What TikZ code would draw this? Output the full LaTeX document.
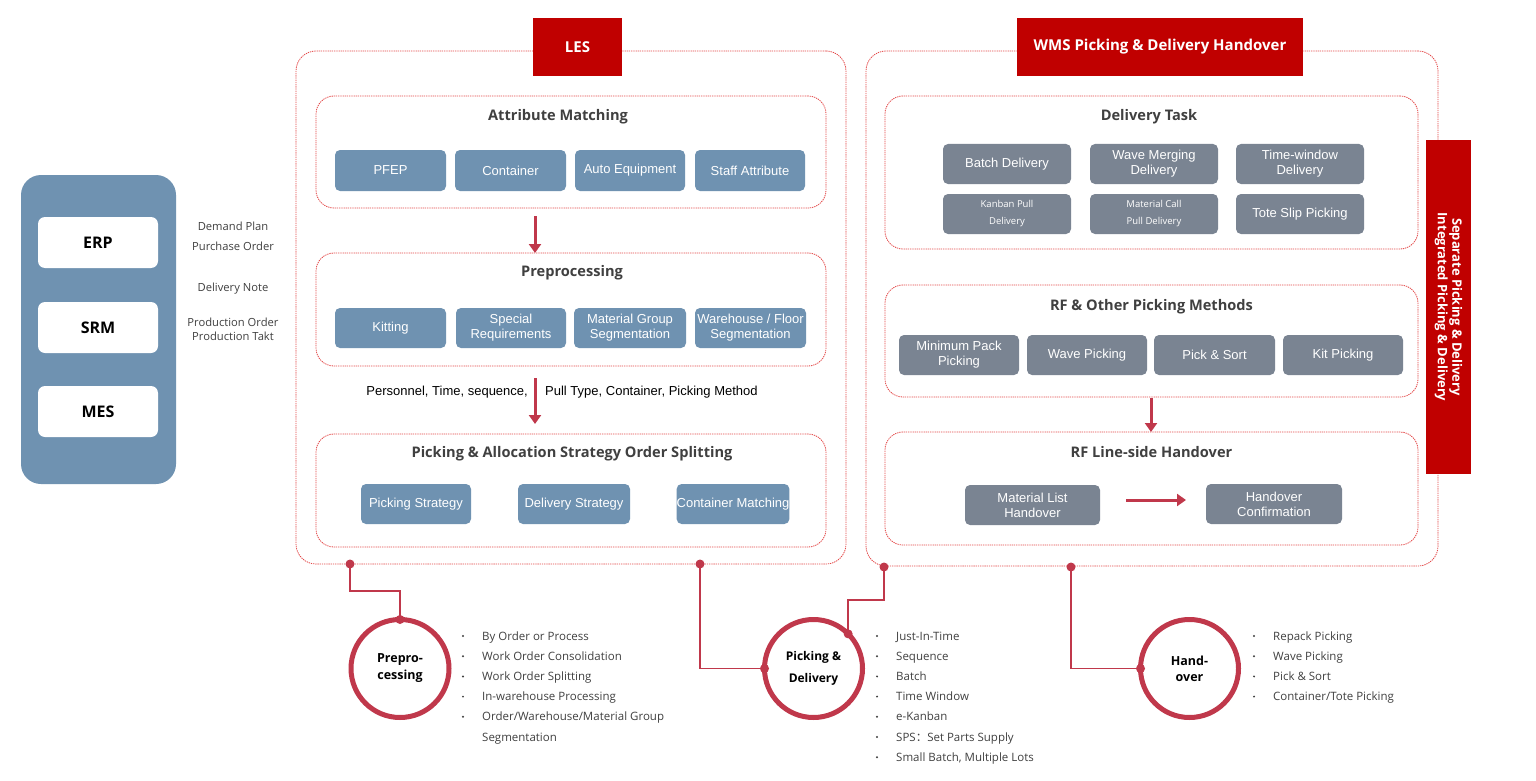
\documentclass[tikz,border=0pt]{standalone}
\usepackage{fontspec}
\setmainfont{Liberation Sans}
\newfontfamily\tfont{Open Sans}
\newfontfamily\cjk{Noto Sans CJK SC}
\usetikzlibrary{arrows.meta}
\definecolor{steel}{RGB}{111,146,177}
\definecolor{slate}{RGB}{122,132,146}
\definecolor{crim}{RGB}{192,56,75}
\definecolor{tred}{RGB}{192,0,0}
\definecolor{dred}{RGB}{228,72,72}
\definecolor{tgray}{RGB}{64,64,64}
\tikzset{
  outerbox/.style={draw=dred, dash pattern=on 1.3pt off 0.9pt, line width=0.8pt, rounded corners=20pt, inner sep=0pt, outer sep=0pt},
  innerbox/.style={draw=dred, dash pattern=on 1.3pt off 0.9pt, line width=0.8pt, rounded corners=18pt, inner sep=0pt, outer sep=0pt},
  lbox/.style={fill=steel, rounded corners=5pt, text=white, align=center, inner sep=0pt, minimum height=40pt, font=\fontsize{13}{15}\selectfont},
  wbox/.style={fill=slate, rounded corners=5pt, text=white, align=center, inner sep=0pt, minimum height=40pt, font=\fontsize{13}{15}\selectfont},
  sysbox/.style={fill=white, rounded corners=7pt, minimum width=120pt, minimum height=51pt, inner sep=0pt, font=\tfont\bfseries\fontsize{16}{18}\selectfont},
  secttl/.style={anchor=base, text=tgray, font=\tfont\bfseries\fontsize{14.6}{16}\selectfont, inner sep=0pt},
  redttl/.style={fill=tred, text=white, inner sep=0pt, minimum height=58pt, font=\tfont\bfseries\fontsize{15}{16}\selectfont},
  arr/.style={draw=crim, line width=3pt, -{Triangle[length=9pt,width=12pt]}},
  conn/.style={draw=crim, line width=1.6pt},
  dot/.style={circle, fill=crim, minimum size=9pt, inner sep=0pt},
  ring/.style={circle, draw=crim, line width=5pt, minimum size=98pt, inner sep=0pt, outer sep=0pt, align=center, text=black},
  blt/.style={anchor=base west, inner sep=0pt, text=tgray, font=\tfont\fontsize{11.5}{12}\selectfont},
  bdot/.style={circle, fill=tgray, minimum size=2.2pt, inner sep=0pt},
  sidelbl/.style={anchor=base, inner sep=0pt, text=tgray, font=\tfont\fontsize{11.2}{12}\selectfont},
  flowlbl/.style={inner sep=0pt, text=black, font=\fontsize{13}{14}\selectfont}
}
\begin{document}
\begin{tikzpicture}[x=1pt,y=-1pt]
\useasboundingbox (0,0) rectangle (1536,781);
\fill[white] (0,0) rectangle (1536,781);

% left systems panel
\node[fill=steel, rounded corners=20pt, minimum width=155pt, minimum height=309pt, inner sep=0pt] (sys) at (98.5,329.5) {};
\node[sysbox] (erp) at (98,242.5) {ERP};
\node[sysbox] (srm) at (98,327.5) {SRM};
\node[sysbox] (mes) at (98,411.5) {MES};
\node[sidelbl] (l1) at (233,230) {Demand Plan};
\node[sidelbl] (l2) at (233,250) {Purchase Order};
\node[sidelbl] (l3) at (233,291) {Delivery Note};
\node[sidelbl] (l4) at (233,326) {Production Order};
\node[sidelbl] (l5) at (233,340) {Production Takt};

% LES
\node[outerbox, minimum width=550pt, minimum height=513pt] (les) at (571,307.5) {};
\node[redttl, minimum width=89pt] (lesttl) at (577.5,47) {LES};

\node[innerbox, minimum width=510pt, minimum height=112pt] (attr) at (571,152) {};
\node[secttl] (attrttl) at (558,121) {Attribute Matching};
\node[lbox, minimum width=111pt, minimum height=41pt] (pfep) at (390.5,170.5) {PFEP};
\node[lbox, minimum width=111pt, minimum height=41pt] (cont) at (510.5,170.5) {Container};
\node[lbox, minimum width=110pt, minimum height=41pt] (auto) at (630,170.5) {Auto Equipment};
\node[lbox, minimum width=110pt, minimum height=41pt] (staff) at (750,170.5) {Staff Attribute};

\node[innerbox, minimum width=510pt, minimum height=113pt] (pre) at (571,309.5) {};
\node[secttl] (prettl) at (572,276) {Preprocessing};
\node[lbox, minimum width=111pt] (kit) at (390.5,328) {Kitting};
\node[lbox, minimum width=110pt] (spec) at (511,328) {Special\\Requirements};
\node[lbox, minimum width=112pt] (mgs) at (630,328) {Material Group\\Segmentation};
\node[lbox, minimum width=111pt] (whs) at (750.5,328) {Warehouse / Floor\\Segmentation};

\node[innerbox, minimum width=510pt, minimum height=113pt] (pick) at (571,490.5) {};
\node[secttl] (pickttl) at (572,457) {Picking \& Allocation Strategy Order Splitting};
\node[lbox, minimum width=110pt] (ps) at (416,504) {Picking Strategy};
\node[lbox, minimum width=112pt] (ds) at (574,504) {Delivery Strategy};
\node[lbox, minimum width=112pt] (cm) at (733,504) {Container Matching};

\coordinate (a1) at (535,216);
\draw[arr] (a1) -- (a1 |- pre.north);
\coordinate (a2) at (535,378);
\coordinate (a2e) at (535,424);
\draw[arr] (a2) -- (a2e);
\node[flowlbl, anchor=base east] (fl1) at (528,395.5) {Personnel, Time, sequence,};
\node[flowlbl, anchor=base west] (fl2) at (545,395.5) {Pull Type, Container, Picking Method};

% WMS
\node[outerbox, minimum width=572pt, minimum height=515pt] (wms) at (1152,308.5) {};
\node[redttl, minimum width=286pt] (wmsttl) at (1160,47) {WMS Picking \& Delivery Handover};

\node[innerbox, minimum width=533pt, minimum height=153pt] (dt) at (1151.5,172.5) {};
\node[secttl] (dtttl) at (1149,121) {Delivery Task};
\node[wbox, minimum width=128pt] (bd) at (1007,164) {Batch Delivery};
\node[wbox, minimum width=128pt] (wmd) at (1154,164) {Wave Merging\\Delivery};
\node[wbox, minimum width=128pt] (twd) at (1300,164) {Time-window\\Delivery};
\node[wbox, minimum width=128pt, font=\tfont\fontsize{9.5}{17}\selectfont] (kpd) at (1007,214) {Kanban Pull\\Delivery};
\node[wbox, minimum width=128pt, font=\tfont\fontsize{9.5}{17}\selectfont] (mcd) at (1154,214) {Material Call\\Pull Delivery};
\node[wbox, minimum width=128pt] (tsp) at (1300,214) {Tote Slip Picking};

\node[innerbox, minimum width=533pt, minimum height=112pt] (rf) at (1151.5,341) {};
\node[secttl] (rfttl) at (1151.5,310) {RF \& Other Picking Methods};
\node[wbox, minimum width=120pt] (mpp) at (959,355) {Minimum Pack\\Picking};
\node[wbox, minimum width=120pt] (wp) at (1087,355) {Wave Picking};
\node[wbox, minimum width=121pt] (pns) at (1214.5,355) {Pick \& Sort};
\node[wbox, minimum width=120pt] (kp) at (1343,355) {Kit Picking};

\node[innerbox, minimum width=533pt, minimum height=113pt] (rfh) at (1151.5,488.5) {};
\node[secttl] (rfhttl) at (1151.5,457) {RF Line-side Handover};
\node[wbox, minimum width=135pt] (mlh) at (1032.5,505) {Material List\\Handover};
\node[wbox, minimum width=136pt] (hc) at (1274,504) {Handover\\Confirmation};

\coordinate (a3) at (1151,398);
\draw[arr] (a3) -- (a3 |- rfh.north);
\coordinate (a4) at (1126,500);
\coordinate (a4e) at (1186,500);
\draw[arr] (a4) -- (a4e);

% side bar
\node[fill=tred, minimum width=45pt, minimum height=334pt, inner sep=0pt] (bar) at (1448.5,307) {};
\node[rotate=-90, text=white, align=center, inner sep=0pt, font=\tfont\bfseries\fontsize{13}{14.5}\selectfont] (bartxt) at (bar.center) {Separate Picking \& Delivery\\Integrated Picking \& Delivery};

% rings
\node[ring, font=\tfont\bfseries\fontsize{12.5}{17}\selectfont] (rpre) at (400,668.5) {Prepro-\\cessing};
\node[ring, font=\tfont\bfseries\fontsize{12}{22}\selectfont] (rpd) at (813.5,668.5) {Picking \&\\Delivery};
\node[ring, font=\tfont\bfseries\fontsize{12.5}{16}\selectfont] (rho) at (1189.5,668.5) {Hand-\\over};

% connectors
\node[dot] (d1) at (350,564) {};
\node[dot] (d2) at (700,564) {};
\node[dot] (d3) at (884,567) {};
\node[dot] (d4) at (1071,567) {};
\draw[conn] (d1.center) -- ++(0,27) -| (rpre.north);
\draw[conn] (d2.center) |- (rpd.west);
\draw[conn] (d3.center) -- ++(0,33) -| (rpd.45);
\draw[conn] (d4.center) |- (rho.west);
\node[dot] (e1) at (rpre.north) {};
\node[dot] (e2) at (rpd.west) {};
\node[dot] (e3) at (rpd.45) {};
\node[dot] (e4) at (rho.west) {};

% bullet lists
\foreach \t [count=\i] in {By Order or Process, Work Order Consolidation, Work Order Splitting, In-warehouse Processing, Order/Warehouse/Material Group, Segmentation}
  \node[blt] (pt\i) at (482,{640+(\i-1)*20.2}) {\t};
\foreach \i in {1,...,5}
  \node[bdot] (pb\i) at (463,{636+(\i-1)*20.2}) {};

\foreach \t [count=\i] in {Just-In-Time, Sequence, Batch, Time Window, e-Kanban, {SPS{\cjk ：}Set Parts Supply}, {Small Batch, Multiple Lots}}
  \node[blt] (dt\i) at (896,{640+(\i-1)*20.2}) {\t};
\foreach \i in {1,...,7}
  \node[bdot] (db\i) at (877,{636+(\i-1)*20.2}) {};

\foreach \t [count=\i] in {Repack Picking, Wave Picking, Pick \& Sort, Container/Tote Picking}
  \node[blt] (ht\i) at (1273,{640+(\i-1)*20.2}) {\t};
\foreach \i in {1,...,4}
  \node[bdot] (hb\i) at (1254,{636+(\i-1)*20.2}) {};
\end{tikzpicture}
\end{document}
